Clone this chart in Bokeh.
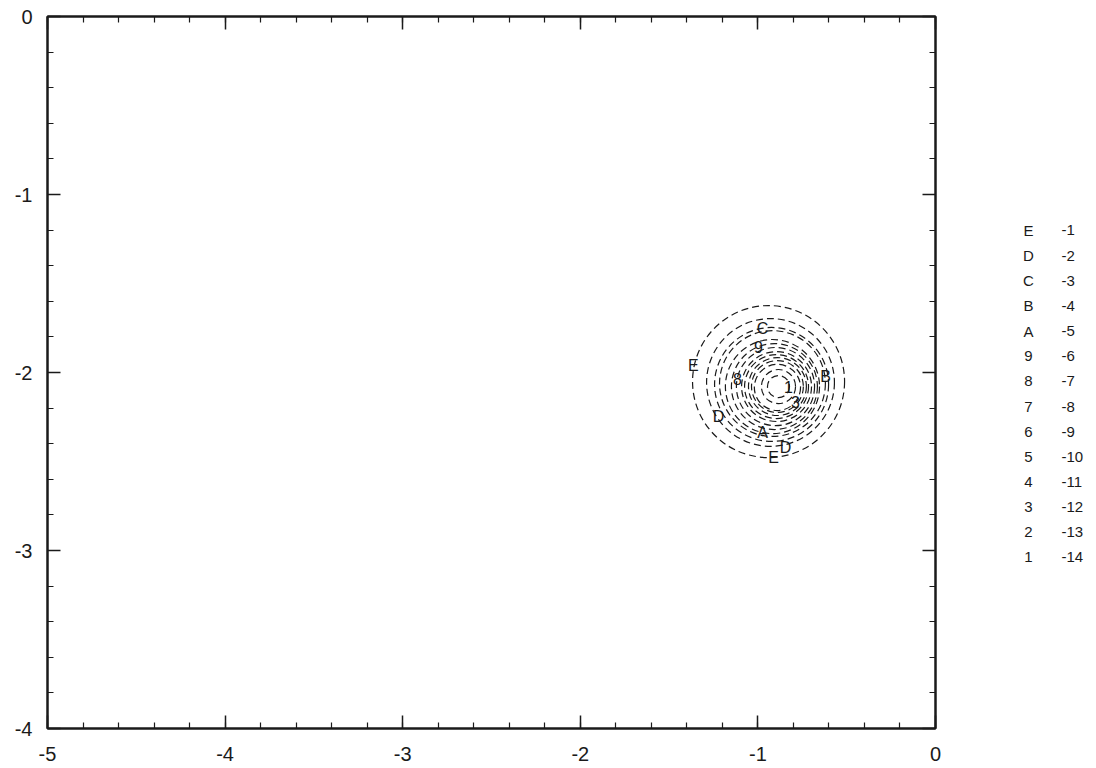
from bokeh.plotting import figure
from bokeh.models import LinearAxis, SingleIntervalTicker, Range1d
from bokeh.layouts import row
from bokeh.core.properties import value
from bokeh.embed import file_html
from bokeh.resources import INLINE

# contour levels, their one-character keys, and the fitted circles (data units)
levels = [-1, -2, -3, -4, -5, -6, -7, -8, -9, -10, -11, -12, -13, -14]
keys = ["E", "D", "C", "B", "A", "9", "8", "7", "6", "5", "4", "3", "2", "1"]
center_x = [-0.940, -0.929, -0.923, -0.918, -0.918, -0.907, -0.901, -0.895,
            -0.895, -0.890, -0.890, -0.890, -0.884, -0.884]
center_y = [-2.051, -2.056, -2.067, -2.062, -2.079, -2.079, -2.079, -2.079,
            -2.079, -2.079, -2.079, -2.084, -2.079, -2.079]
radius = [0.428, 0.360, 0.321, 0.298, 0.265, 0.242, 0.220, 0.197,
          0.180, 0.163, 0.146, 0.130, 0.096, 0.062]

# in-plot contour labels
label_text = ["E", "E", "D", "D", "C", "B", "A", "9", "8", "1", "3"]
label_x = [-1.363, -0.912, -1.222, -0.845, -0.974, -0.619, -0.974, -0.997, -1.115, -0.828, -0.788]
label_y = [-1.961, -2.478, -2.247, -2.421, -1.753, -2.022, -2.337, -1.854, -2.034, -2.079, -2.163]

# axis tick labels (plain hyphen minus)
x_ticks = [-5, -4, -3, -2, -1, 0]
y_ticks = [-4, -3, -2, -1, 0]

FONT = "Liberation Sans"
INK = "#1a1a1a"

p = figure(width=950, height=768, output_backend="svg", toolbar_location=None,
           x_range=Range1d(-5, 0), y_range=Range1d(-4, 0),
           x_axis_location=None, y_axis_location=None,
           min_border_left=47, min_border_right=15,
           min_border_top=16, min_border_bottom=40)
p.grid.visible = False
p.background_fill_color = "white"
p.border_fill_color = "white"
p.outline_line_color = INK
p.outline_line_width = 2

def make_axis(show_labels, ticks):
    ax = LinearAxis(ticker=SingleIntervalTicker(interval=1, num_minor_ticks=5))
    ax.axis_line_color = INK
    ax.axis_line_width = 2
    ax.major_tick_in = 13
    ax.major_tick_out = 0
    ax.minor_tick_in = 6
    ax.minor_tick_out = 0
    ax.major_tick_line_color = INK
    ax.minor_tick_line_color = INK
    ax.major_tick_line_width = 1.5
    ax.minor_tick_line_width = 1.2
    if show_labels:
        ax.major_label_overrides = {t: str(t) for t in ticks}
        ax.major_label_text_font = FONT
        ax.major_label_text_font_size = "20px"
        ax.major_label_text_color = INK
        ax.major_label_standoff = 15
    else:
        ax.major_label_text_font_size = "0px"
        ax.major_label_standoff = 0
    return ax

xb = make_axis(True, x_ticks)
xb.major_label_standoff = 18
p.add_layout(xb, "below")
p.add_layout(make_axis(True, y_ticks), "left")
p.add_layout(make_axis(False, x_ticks), "above")
p.add_layout(make_axis(False, y_ticks), "right")

# dashed contour circles
p.circle(x=center_x, y=center_y, radius=radius, fill_alpha=0,
         line_color=INK, line_width=1.2, line_dash="7 4")

p.text(x=label_x, y=label_y, text=label_text, text_font=value(FONT),
       text_font_size="16px", text_color=INK, text_align="center",
       text_baseline="middle")

# key panel: level symbol and value, one row per level, sharing the plot's vertical scale
key = figure(width=146, height=768, output_backend="svg", toolbar_location=None,
             x_range=Range1d(0, 146), y_range=Range1d(-4, 0),
             x_axis_location=None, y_axis_location=None,
             min_border=0, min_border_top=16, min_border_bottom=40,
             outline_line_color=None)
key.grid.visible = False
row_y = [-1.202 - 0.1413 * i for i in range(len(levels))]
key.text(x=[78] * len(keys), y=row_y, text=keys, text_font=value(FONT),
         text_font_size="15px", text_color=INK, text_align="center",
         text_baseline="middle")
key.text(x=[111] * len(levels), y=row_y, text=[str(v) for v in levels],
         text_font=value(FONT), text_font_size="15px", text_color=INK,
         text_align="left", text_baseline="middle")

layout = row(p, key, spacing=0)
open("out.html", "w").write(file_html(layout, INLINE))
